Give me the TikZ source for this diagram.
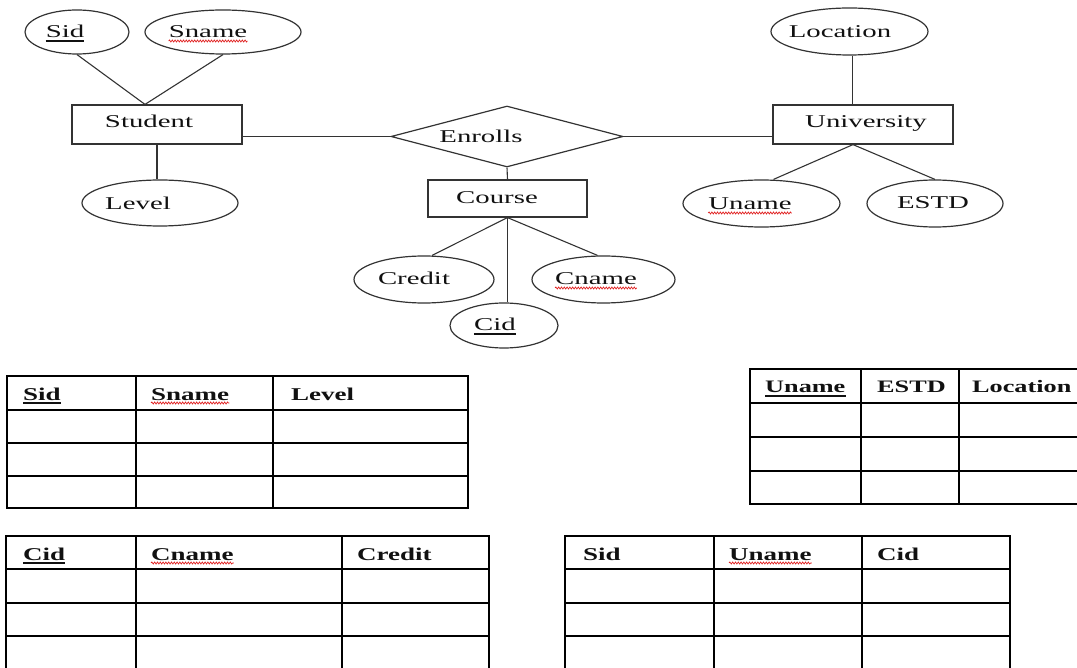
\documentclass[tikz,border=0pt]{standalone}
\usepackage{fontspec}
\usetikzlibrary{shapes.geometric,decorations.pathmorphing}
\newfontfamily\erfont[FakeStretch=1.6]{Liberation Serif}
\newfontfamily\tabfont[FakeStretch=1.5]{Liberation Serif}
\definecolor{linec}{HTML}{333333}
\definecolor{txtc}{HTML}{111111}
\definecolor{spellc}{HTML}{E02020}
\begin{document}
\begin{tikzpicture}[x=1pt,y=-1pt,
  entity/.style={draw=linec, line width=1.2, rectangle, inner sep=0},
  attr/.style={draw=linec, line width=1.2, ellipse, inner sep=0},
  relation/.style={draw=linec, line width=1.2, diamond, inner sep=0},
  lbl/.style={inner sep=0, anchor=base, text=txtc, font=\erfont\fontsize{18}{20}\selectfont},
  hdr/.style={inner sep=0, anchor=base west, text=txtc, font=\tabfont\bfseries\fontsize{18}{20}\selectfont},
  hdrsmall/.style={hdr, font=\tabfont\bfseries\fontsize{17.5}{20}\selectfont},
  link/.style={draw=linec, line width=1.1},
  grid/.style={draw=black, line width=1.6},
  keyline/.style={draw=txtc, line width=1.1},
  spell/.style={draw=spellc, line width=0.7, decorate, decoration={snake, amplitude=1.0, segment length=2.8}}
]
\useasboundingbox (0,0) rectangle (1077,668);
\clip (0,0) rectangle (1077,668);

% ---------- ER diagram: shapes ----------
\node[attr, minimum width=104, minimum height=44] (sid) at (77,32) {};
\node[attr, minimum width=156, minimum height=44] (sname) at (223,32) {};
\node[entity, minimum width=170, minimum height=39] (student) at (157,124.5) {};
\node[attr, minimum width=156, minimum height=46] (level) at (160,203) {};

\node[relation, minimum width=232, minimum height=61] (enrolls) at (507,136.5) {};
\node[entity, minimum width=159, minimum height=37] (course) at (507.5,198.5) {};
\node[attr, minimum width=140, minimum height=47] (credit) at (424,279.5) {};
\node[attr, minimum width=143, minimum height=47] (cname) at (603.5,279.5) {};
\node[attr, minimum width=108, minimum height=45] (cid) at (504,325.5) {};

\node[attr, minimum width=157, minimum height=47] (location) at (849.5,31.5) {};
\node[entity, minimum width=180, minimum height=39] (univ) at (863,124.5) {};
\node[attr, minimum width=157, minimum height=47] (uname) at (761.5,203.5) {};
\node[attr, minimum width=136, minimum height=47] (estd) at (935,203.5) {};

% ---------- ER diagram: connectors ----------
\draw[link] (sid.south) -- ([xshift=-12]student.north);
\draw[link] (sname.south) -- ([xshift=-12]student.north);
\draw[link] (student.south) -- (student.south |- level.north);
\draw[link] (enrolls.west) -- (enrolls.west -| student.east);
\draw[link] (enrolls.east) -- (enrolls.east -| univ.west);
\draw[link] (enrolls.south) -- (course.north);
\draw[link] (course.south) -- ([xshift=8]credit.north);
\draw[link] (course.south) -- ([xshift=-6]cname.north);
\draw[link] (course.south) -- (course.south |- cid.north);
\draw[link] ([xshift=3]location.south) -- ([xshift=3]location.south |- univ.north);
\draw[link] ([xshift=-10]univ.south) -- ([xshift=12]uname.north);
\draw[link] ([xshift=-10]univ.south) -- (estd.north);

% ---------- ER diagram: labels ----------
\node[lbl] (sidt) at (65,38) {Sid};
\node[lbl] (snamet) at (208,38) {Sname};
\node[lbl] (studentt) at (149,128) {Student};
\node[lbl] (levelt) at (138,210) {Level};
\node[lbl] (enrollst) at (481,143) {Enrolls};
\node[lbl] (courset) at (497,204) {Course};
\node[lbl] (creditt) at (414,285) {Credit};
\node[lbl] (cnamet) at (596,285) {Cname};
\node[lbl] (cidt) at (495,331) {Cid};
\node[lbl] (locationt) at (840,38) {Location};
\node[lbl] (univt) at (866,128) {University};
\node[lbl] (unamet) at (750,210) {Uname};
\node[lbl] (estdt) at (933,209) {ESTD};

% key underlines and spelling marks sit just below the baseline
\draw[keyline] ([yshift=-3]sidt.base west) -- ([yshift=-3]sidt.base east);
\draw[keyline] ([yshift=-3]cidt.base west) -- ([yshift=-3]cidt.base east);
\draw[spell] ([yshift=-3]snamet.base west) -- ([yshift=-3]snamet.base east);
\draw[spell] ([yshift=-3]cnamet.base west) -- ([yshift=-3]cnamet.base east);
\draw[spell] ([yshift=-3]unamet.base west) -- ([yshift=-3]unamet.base east);

% ---------- Table: Student ----------
\draw[grid] (7,376) rectangle (468,508);
\foreach \y in {410,443,476} \draw[grid] (7,\y) -- (468,\y);
\foreach \x in {136,273} \draw[grid] (\x,376) -- (\x,508);
\node[hdr] (t1a) at (23,400) {Sid};
\node[hdr] (t1b) at (151,400) {Sname};
\node[hdr] (t1c) at (291,400) {Level};
\draw[keyline] ([yshift=-3]t1a.base west) -- ([yshift=-3]t1a.base east);
\draw[spell] ([yshift=-3]t1b.base west) -- ([yshift=-3]t1b.base east);

% ---------- Table: University ----------
\draw[grid] (1090,369) -- (750,369) -- (750,504) -- (1090,504);
\foreach \y in {403,437,471} \draw[grid] (750,\y) -- (1090,\y);
\foreach \x in {861,959} \draw[grid] (\x,369) -- (\x,504);
\node[hdrsmall] (t2a) at (765,393) {Uname};
\node[hdrsmall] (t2b) at (877,393) {ESTD};
\node[hdrsmall] (t2c) at (972,393) {Location};
\draw[keyline] ([yshift=-3]t2a.base west) -- ([yshift=-3]t2a.base east);

% ---------- Table: Course ----------
\draw[grid] (6,680) -- (6,536) -- (489,536) -- (489,680);
\foreach \y in {569,603,636} \draw[grid] (6,\y) -- (489,\y);
\foreach \x in {136,342} \draw[grid] (\x,536) -- (\x,680);
\node[hdr] (t3a) at (23,560) {Cid};
\node[hdr] (t3b) at (151,560) {Cname};
\node[hdr] (t3c) at (357,560) {Credit};
\draw[keyline] ([yshift=-3]t3a.base west) -- ([yshift=-3]t3a.base east);
\draw[spell] ([yshift=-3]t3b.base west) -- ([yshift=-3]t3b.base east);

% ---------- Table: Enrolls ----------
\draw[grid] (565,680) -- (565,536) -- (1010,536) -- (1010,680);
\foreach \y in {569,603,636} \draw[grid] (565,\y) -- (1010,\y);
\foreach \x in {714,862} \draw[grid] (\x,536) -- (\x,680);
\node[hdr] (t4a) at (583,560) {Sid};
\node[hdr] (t4b) at (729,560) {Uname};
\node[hdr] (t4c) at (877,560) {Cid};
\draw[spell] ([yshift=-3]t4b.base west) -- ([yshift=-3]t4b.base east);
\end{tikzpicture}
\end{document}
